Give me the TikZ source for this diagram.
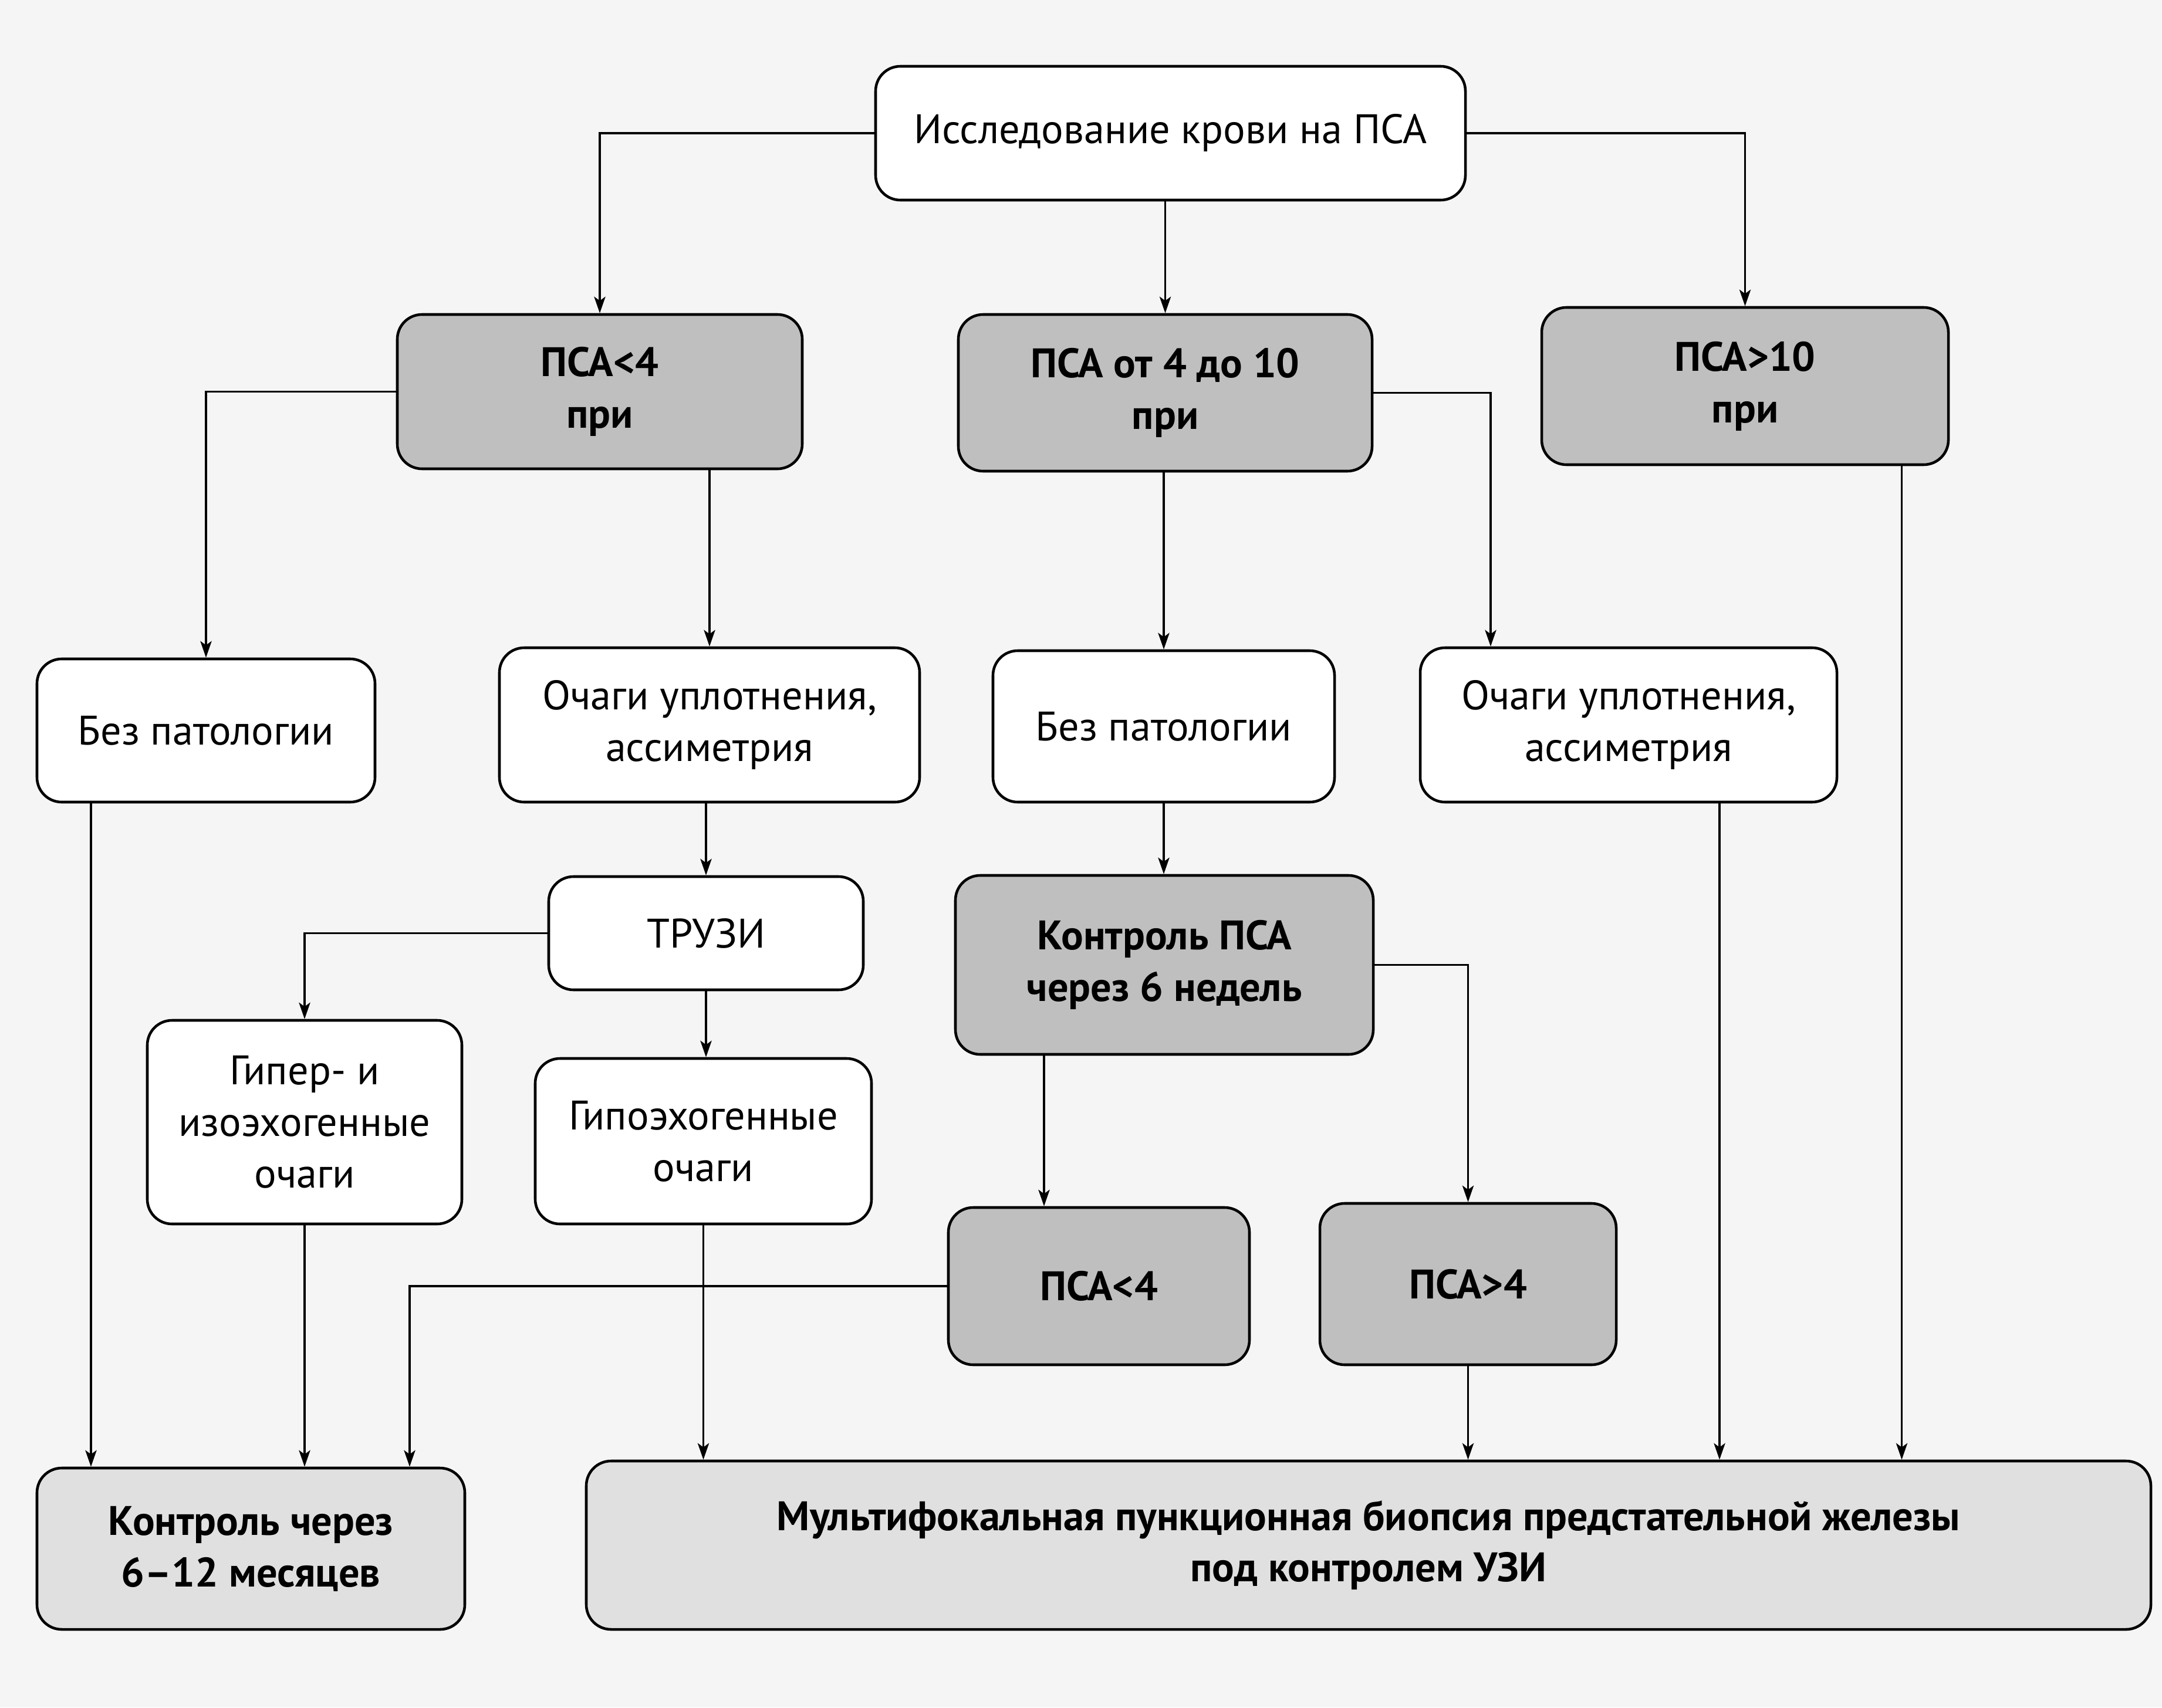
\documentclass[tikz,border=0pt]{standalone}
\usepackage{fontspec}
\setsansfont{PT Sans}
\usetikzlibrary{arrows.meta}
\usetikzlibrary{positioning}

\begin{document}
\begin{tikzpicture}[
    font=\sffamily\fontsize{20}{25}\selectfont
]
\tikzset{
    wbox/.style = {rectangle, rounded corners=12pt, draw=black, line width=1.3pt, align=center, fill=white, inner sep=0pt},
    gbox/.style = {wbox, fill=black!25, font=\sffamily\bfseries\fontsize{20}{25}\selectfont},
    lbox/.style = {wbox, fill=black!12, font=\sffamily\bfseries\fontsize{20}{25}\selectfont},
    edgen/.style = {-{Stealth[length=8pt,width=5.5pt,inset=2pt]}, line width=0.9pt}
}
\useasboundingbox (0,0) rectangle (36.84,-29.10);
\fill[black!4] (0,0) rectangle (36.84,-29.10);

% top row
\node[wbox, minimum width=10.05cm, minimum height=2.28cm] (blood)  at (19.945,-2.27) {Исследование крови на ПСА};
\node[gbox, minimum width=6.90cm,  minimum height=2.63cm] (psa4)   at (10.22,-6.675) {ПСА<4\\при};
\node[gbox, minimum width=7.05cm,  minimum height=2.67cm] (psa410) at (19.855,-6.695) {ПСА от 4 до 10\\при};
\node[gbox, minimum width=6.93cm,  minimum height=2.68cm] (psa10)  at (29.735,-6.58) {ПСА>10\\при};

% second row
\node[wbox, minimum width=5.76cm, minimum height=2.44cm] (norm1) at (3.51,-12.45) {Без патологии};
\node[wbox, minimum width=7.16cm, minimum height=2.63cm] (foci1) at (12.09,-12.355) {Очаги уплотнения,\\ассиметрия};
\node[wbox, minimum width=5.82cm, minimum height=2.58cm] (norm2) at (19.83,-12.38) {Без патологии};
\node[wbox, minimum width=7.10cm, minimum height=2.63cm] (foci2) at (27.75,-12.355) {Очаги уплотнения,\\ассиметрия};

% third row
\node[wbox, minimum width=5.36cm, minimum height=1.93cm] (trus)   at (12.03,-15.905) {ТРУЗИ};
\node[gbox, minimum width=7.12cm, minimum height=3.05cm] (ctrl6w) at (19.84,-16.445) {Контроль ПСА\\через 6 недель};
\node[wbox, minimum width=5.36cm, minimum height=3.47cm] (hyper)  at (5.19,-19.125) {Гипер- и\\изоэхогенные\\очаги};
\node[wbox, minimum width=5.73cm, minimum height=2.82cm] (hypo)   at (11.985,-19.45) {Гипоэхогенные\\очаги};
\node[gbox, minimum width=5.13cm, minimum height=2.68cm] (lt4)    at (18.725,-21.92) {ПСА<4};
\node[gbox, minimum width=5.05cm, minimum height=2.75cm] (gt4)    at (25.015,-21.885) {ПСА>4};

% bottom row
\node[lbox, minimum width=7.29cm,  minimum height=2.75cm] (ctrl612) at (4.275,-26.395) {Контроль через\\6–12 месяцев};
\node[lbox, minimum width=26.66cm, minimum height=2.87cm] (biopsy)  at (23.32,-26.335) {Мультифокальная пункционная биопсия предстательной железы\\под контролем УЗИ};

% free ends of connectors
\coordinate (f2in)   at ([xshift=-2.35cm]foci2.north);
\coordinate (p10out) at ([xshift=2.67cm]psa10.south);
\coordinate (n1out)  at ([xshift=-1.96cm]norm1.south);
\coordinate (c6out)  at ([xshift=-2.05cm]ctrl6w.south);
\coordinate (lt4in)  at ([xshift=2.705cm]ctrl612.north);
\coordinate (f2out)  at ([xshift=1.55cm]foci2.south);

\draw[edgen] (blood.west) -| (psa4.north);
\draw[edgen] (blood.south -| psa410.north) -- (psa410.north);
\draw[edgen] (blood.east) -| (psa10.north);
\draw[edgen] (psa4.west) -| (norm1.north);
\draw[edgen] (psa4.south -| foci1.north) -- (foci1.north);
\draw[edgen] (psa410.south -| norm2.north) -- (norm2.north);
\draw[edgen] (psa410.east) -| (f2in);
\draw[edgen] (p10out) -- (p10out |- biopsy.north);
\draw[edgen] (n1out) -- (n1out |- ctrl612.north);
\draw[edgen] (foci1.south -| trus.north) -- (trus.north);
\draw[edgen] (trus.west) -| (hyper.north);
\draw[edgen] (trus.south) -- (trus.south |- hypo.north);
\draw[edgen] (hyper.south) -- (hyper.south |- ctrl612.north);
\draw[edgen] (hypo.south) -- (hypo.south |- biopsy.north);
\draw[edgen] (norm2.south) -- (norm2.south |- ctrl6w.north);
\draw[edgen] (c6out) -- (c6out |- lt4.north);
\draw[edgen] (ctrl6w.east) -| (gt4.north);
\draw[edgen] (lt4.west) -| (lt4in);
\draw[edgen] (gt4.south) -- (gt4.south |- biopsy.north);
\draw[edgen] (f2out) -- (f2out |- biopsy.north);
\end{tikzpicture}
\end{document}
